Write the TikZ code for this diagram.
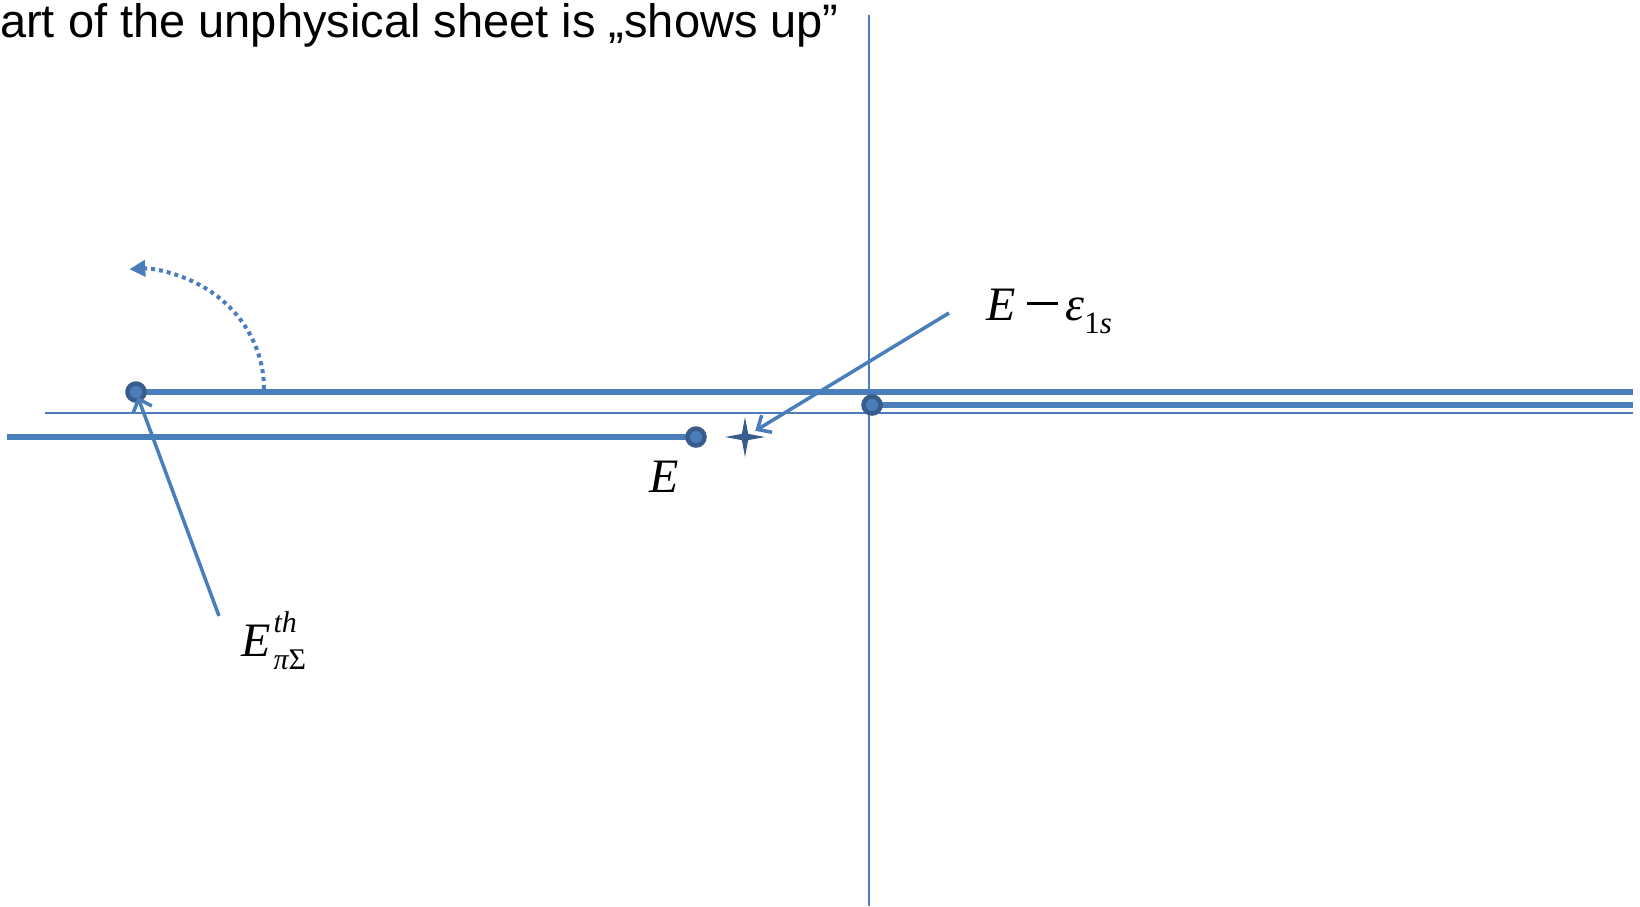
\documentclass[tikz,border=0pt]{standalone}
\usepackage{fontspec}
\setmainfont{Liberation Serif}
\newfontfamily\arialfont{Liberation Sans}
\usetikzlibrary{arrows.meta,shapes.geometric}
\definecolor{lblue}{HTML}{4A7EBB}
\definecolor{dblue}{HTML}{385D8A}
\tikzset{
  axisline/.style={draw=lblue, line width=1.8pt},
  cutline/.style={draw=lblue, line width=5.5pt},
  branchdot/.style={circle, draw=dblue, fill=lblue, line width=4.5pt, minimum size=17pt, inner sep=0pt},
  pointer/.style={draw=lblue, line width=3.5pt, -{Straight Barb[length=11pt,width=20pt,line width=3.5pt]}},
  polestar/.style={star, star points=4, star point ratio=4.5, minimum size=40pt, inner sep=0pt, fill=dblue, draw=none},
  mainlbl/.style={inner sep=0pt, anchor=base west, font=\fontsize{48}{58}\selectfont},
  rotarrow/.style={draw=lblue, line width=4pt, dash pattern=on 4pt off 4pt, -{Triangle[length=16pt,width=16pt]}}
}
\begin{document}
\begin{tikzpicture}[x=1pt,y=-1pt]
\useasboundingbox (0,0) rectangle (1640,906);
% title
\node[inner sep=0pt, anchor=base west, font=\arialfont\fontsize{47}{56}\selectfont] (title) at (0,37) {art of the unphysical sheet is „shows up”};
% axes
\coordinate (yTop) at (869,15);
\coordinate (yBot) at (869,906);
\coordinate (xL) at (45,413);
\coordinate (xR) at (1633,413);
\draw[axisline] (yTop) -- (yBot);
\draw[axisline] (xL) -- (xR);
% branch point centres
\coordinate (thrc) at (136,392);
\coordinate (ePc) at (696,437);
\coordinate (origc) at (872,405);
\coordinate (upR) at (1633,392);
\coordinate (lowR) at (1633,405);
\coordinate (lowL) at (7,437);
% cuts
\draw[cutline] (thrc) -- (upR);
\draw[cutline] (lowL) -- (ePc);
\draw[cutline] (origc) -- (lowR);
% dotted rotation arrow
\draw[rotarrow] (264,389) arc[start angle=0, end angle=-93, x radius=128, y radius=120];
% dots
\node[branchdot] (thr) at (thrc) {};
\node[branchdot] (eP) at (ePc) {};
\node[branchdot] (orig) at (origc) {};
% pole star
\node[polestar] (pole) at (745,437) {};
% labels
\node[mainlbl] (lE) at (649,492) {\itshape E};
\node[mainlbl] (lEps) at (986,320) {\itshape E\hspace{11pt}\rule[15pt]{31pt}{2.6pt}\hspace{8pt}\itshape ε\raisebox{-13pt}{\fontsize{31}{33}\selectfont\upshape 1\itshape s}};
\node[mainlbl] (lThr) at (241,656) {\itshape E\hspace{3pt}\rlap{\raisebox{24pt}{\fontsize{30}{32}\selectfont th}}\raisebox{-13pt}{\fontsize{30}{32}\selectfont π\upshape Σ}};
% connectors
\coordinate (epsStart) at (949,313);
\coordinate (thrStart) at (219,616);
\draw[pointer, shorten >=12pt] (epsStart) -- (pole.center);
\draw[pointer, shorten >=5pt] (thrStart) -- (thr.center);
\end{tikzpicture}
\end{document}
